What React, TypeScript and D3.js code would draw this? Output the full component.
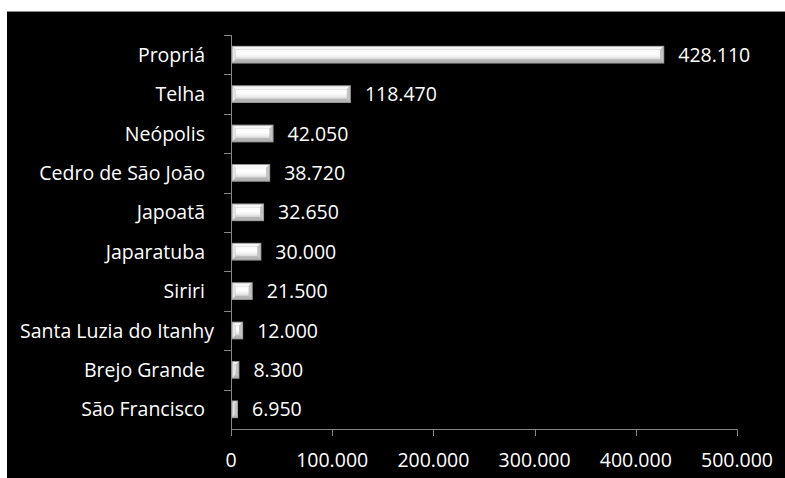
import React, { useEffect, useRef } from "react";
import * as d3 from "d3";

// Municipalities, top to bottom
const categories = [
  "Propriá",
  "Telha",
  "Neópolis",
  "Cedro de São João",
  "Japoatã",
  "Japaratuba",
  "Siriri",
  "Santa Luzia do Itanhy",
  "Brejo Grande",
  "São Francisco",
];

const values = [428110, 118470, 42050, 38720, 32650, 30000, 21500, 12000, 8300, 6950];

const xTicks = [0, 100000, 200000, 300000, 400000, 500000];

const W = 785;
const H = 478;
const FONT = "'Open Sans', 'Noto Sans', sans-serif";
const FS = 19.5;

const ptBR = d3.formatLocale({
  decimal: ",",
  thousands: ".",
  grouping: [3],
  currency: ["R$", ""],
});
const fmt = ptBR.format(",d");

export default function App() {
  const ref = useRef<SVGSVGElement>(null);

  useEffect(() => {
    const svg = d3.select(ref.current);
    svg.selectAll("*").remove();

    const x = d3.scaleLinear().domain([0, 500000]).range([231, 737]);
    const y = d3
      .scaleBand<string>()
      .domain(categories)
      .range([35, 429])
      .paddingInner(0.55)
      .paddingOuter(0.275);

    const defs = svg.append("defs");
    const face = defs
      .append("linearGradient")
      .attr("id", "barFace")
      .attr("x1", 0)
      .attr("y1", 0)
      .attr("x2", 0)
      .attr("y2", 1);
    face.append("stop").attr("offset", "0%").attr("stop-color", "#fafafa");
    face.append("stop").attr("offset", "40%").attr("stop-color", "#ffffff");
    face.append("stop").attr("offset", "75%").attr("stop-color", "#ededed");
    face.append("stop").attr("offset", "100%").attr("stop-color", "#cfcfcf");

    // chart background
    svg
      .append("rect")
      .attr("x", 7)
      .attr("y", 11)
      .attr("width", W - 7)
      .attr("height", H - 11)
      .attr("fill", "#000");
    svg
      .append("line")
      .attr("x1", 7)
      .attr("x2", W)
      .attr("y1", 11.5)
      .attr("y2", 11.5)
      .attr("stroke", "#8a8a8a")
      .attr("stroke-width", 1);

    // bars with bevelled edges
    const bars = svg
      .append("g")
      .selectAll("g")
      .data(categories)
      .join("g");

    bars.each(function (c, i) {
      const g = d3.select(this);
      const x0 = x(0) + 0.5;
      const x1 = x(values[i]);
      const y0 = y(c)!;
      const h = y.bandwidth();
      const y1 = y0 + h;
      const b = Math.min(3, (x1 - x0) / 3);
      // frame
      g.append("rect")
        .attr("x", x0)
        .attr("y", y0)
        .attr("width", x1 - x0)
        .attr("height", h)
        .attr("fill", "#9a9a9a");
      const poly = (pts: [number, number][], fill: string) =>
        g
          .append("polygon")
          .attr("points", pts.map((p) => p.join(",")).join(" "))
          .attr("fill", fill);
      const ix0 = x0 + 1;
      const ix1 = x1 - 1;
      const iy0 = y0 + 1;
      const iy1 = y1 - 1;
      // top bevel
      poly(
        [
          [ix0, iy0],
          [ix1, iy0],
          [ix1 - b, iy0 + b],
          [ix0 + b, iy0 + b],
        ],
        "#f6f6f6"
      );
      // bottom bevel
      poly(
        [
          [ix0, iy1],
          [ix1, iy1],
          [ix1 - b, iy1 - b],
          [ix0 + b, iy1 - b],
        ],
        "#b4b4b4"
      );
      // left bevel
      poly(
        [
          [ix0, iy0],
          [ix0 + b, iy0 + b],
          [ix0 + b, iy1 - b],
          [ix0, iy1],
        ],
        "#e6e6e6"
      );
      // right bevel
      poly(
        [
          [ix1, iy0],
          [ix1 - b, iy0 + b],
          [ix1 - b, iy1 - b],
          [ix1, iy1],
        ],
        "#c4c4c4"
      );
      g.append("rect")
        .attr("x", ix0 + b)
        .attr("y", iy0 + b)
        .attr("width", Math.max(0, ix1 - ix0 - 2 * b))
        .attr("height", Math.max(0, iy1 - iy0 - 2 * b))
        .attr("fill", "url(#barFace)");
    });

    // value labels
    svg
      .append("g")
      .selectAll("text")
      .data(categories)
      .join("text")
      .attr("x", (_, i) => x(values[i]) + 14)
      .attr("y", (c) => y(c)! + y.bandwidth() / 2)
      .attr("dy", "0.36em")
      .attr("fill", "#fff")
      .attr("font-family", FONT)
      .attr("font-size", FS)
      .text((_, i) => fmt(values[i]));

    // category axis
    const axisColor = "#868686";
    const step = y.step();
    const yStart = y.range()[0];
    svg
      .append("line")
      .attr("x1", 231.5)
      .attr("x2", 231.5)
      .attr("y1", yStart)
      .attr("y2", 429.5)
      .attr("stroke", axisColor);
    svg
      .append("g")
      .selectAll("line")
      .data(d3.range(categories.length))
      .join("line")
      .attr("x1", 224)
      .attr("x2", 231.5)
      .attr("y1", (i) => Math.round(yStart + i * step) + 0.5)
      .attr("y2", (i) => Math.round(yStart + i * step) + 0.5)
      .attr("stroke", axisColor);

    const catLabels = svg
      .append("g")
      .selectAll("text")
      .data(categories)
      .join("text")
      .attr("x", 205)
      .attr("y", (c) => y(c)! + y.bandwidth() / 2)
      .attr("dy", "0.36em")
      .attr("text-anchor", "end")
      .attr("fill", "#fff")
      .attr("font-family", FONT)
      .attr("font-size", FS)
      .text((c) => c);
    // keep long labels inside the chart area
    catLabels.each(function () {
      const el = this as SVGTextElement;
      const w = el.getComputedTextLength();
      if (205 - w < 20) {
        d3.select(el).attr("x", 20 + w);
      }
    });

    // value axis
    svg
      .append("line")
      .attr("x1", 231)
      .attr("x2", x(500000) + 0.5)
      .attr("y1", 429.5)
      .attr("y2", 429.5)
      .attr("stroke", axisColor);
    svg
      .append("g")
      .selectAll("line")
      .data(xTicks)
      .join("line")
      .attr("x1", (d) => Math.round(x(d)) + 0.5)
      .attr("x2", (d) => Math.round(x(d)) + 0.5)
      .attr("y1", 429.5)
      .attr("y2", 436)
      .attr("stroke", axisColor);
    svg
      .append("g")
      .selectAll("text")
      .data(xTicks)
      .join("text")
      .attr("x", (d) => x(d))
      .attr("y", 460)
      .attr("dy", "0.36em")
      .attr("text-anchor", "middle")
      .attr("fill", "#fff")
      .attr("font-family", FONT)
      .attr("font-size", FS)
      .text((d) => fmt(d));
  }, []);

  return (
    <svg
      ref={ref}
      width={W}
      height={H}
      style={{ position: "absolute", left: 0, top: 0, display: "block" }}
    />
  );
}
